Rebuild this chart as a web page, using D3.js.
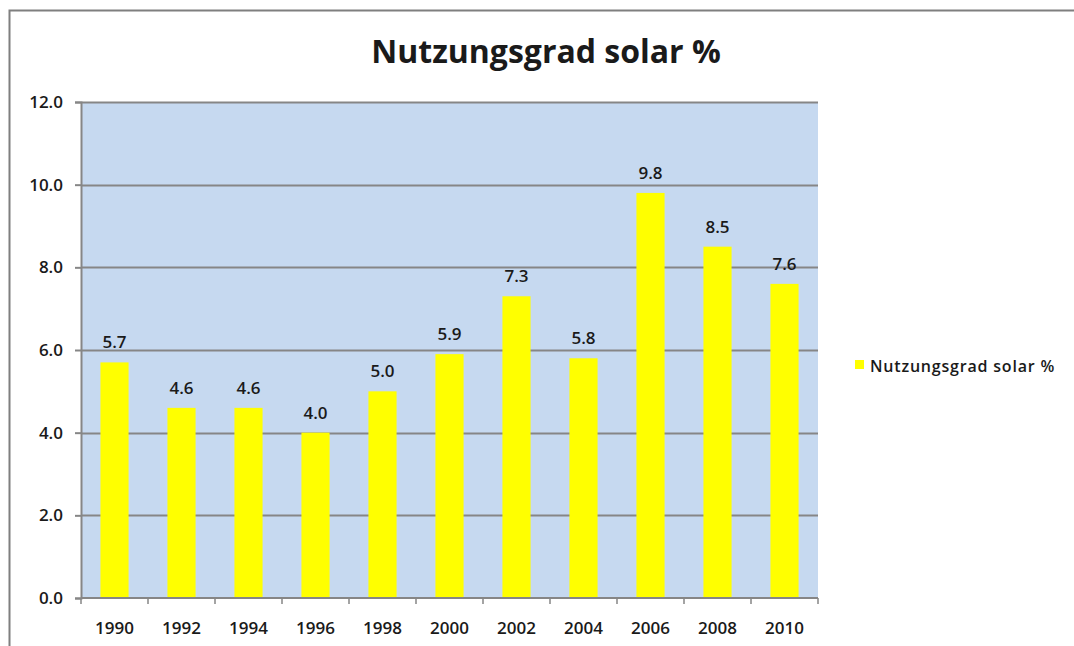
<!DOCTYPE html>
<html>
<head>
<meta charset="utf-8">
<script src="https://cdn.jsdelivr.net/npm/d3@7"></script>
<style>
  body { margin: 0; background: #fff; }
  text { font-family: "Open Sans", "DejaVu Sans", sans-serif; fill: #1a1a1a; }
</style>
</head>
<body>
<div id="chart"></div>
<script>
let years = ["1990", "1992", "1994", "1996", "1998", "2000", "2002", "2004", "2006", "2008", "2010"];
let values = [5.7, 4.6, 4.6, 4.0, 5.0, 5.9, 7.3, 5.8, 9.8, 8.5, 7.6];
let yTicks = [0, 2, 4, 6, 8, 10, 12];
let title = "Nutzungsgrad solar %";
let seriesName = "Nutzungsgrad solar %";

let width = 1074;
let height = 646;
let plot = { left: 81, top: 102, right: 818, bottom: 598 };

let svg = d3.select("#chart")
  .append("svg")
  .attr("width", width)
  .attr("height", height);

// outer chart border (runs off the right and bottom edge)
svg.append("rect")
  .attr("x", 9.5)
  .attr("y", 10.5)
  .attr("width", 1100)
  .attr("height", 700)
  .attr("fill", "#fff")
  .attr("stroke", "#7f7f7f")
  .attr("stroke-width", 2);

svg.append("text")
  .attr("x", 546)
  .attr("y", 63)
  .attr("text-anchor", "middle")
  .attr("font-size", 32)
  .attr("font-weight", "bold")
  .text(title);

let xScale = d3.scaleBand()
  .domain(years)
  .range([plot.left, plot.right])
  .paddingInner(0.58)
  .paddingOuter(0.29);

let yScale = d3.scaleLinear()
  .domain([0, 12])
  .range([plot.bottom, plot.top]);

svg.append("rect")
  .attr("x", plot.left)
  .attr("y", plot.top)
  .attr("width", plot.right - plot.left)
  .attr("height", plot.bottom - plot.top)
  .attr("fill", "#c6d9f0");

// gridlines
svg.append("g")
  .selectAll("line")
  .data(yTicks.filter((d) => d > 0))
  .enter()
  .append("line")
  .attr("x1", plot.left)
  .attr("x2", plot.right)
  .attr("y1", (d) => Math.round(yScale(d)) + 0.5)
  .attr("y2", (d) => Math.round(yScale(d)) + 0.5)
  .attr("stroke", "#868686")
  .attr("stroke-width", 2);

svg.append("g")
  .selectAll("rect")
  .data(values)
  .enter()
  .append("rect")
  .attr("x", (d, i) => xScale(years[i]))
  .attr("y", (d) => yScale(d))
  .attr("width", xScale.bandwidth())
  .attr("height", (d) => yScale(0) - yScale(d))
  .attr("fill", "#ffff00");

svg.append("g")
  .selectAll("text")
  .data(values)
  .enter()
  .append("text")
  .attr("x", (d, i) => xScale(years[i]) + xScale.bandwidth() / 2)
  .attr("y", (d) => yScale(d) - 14)
  .attr("text-anchor", "middle")
  .attr("font-size", 17)
  .attr("font-weight", 600)
  .text((d) => d3.format(".1f")(d));

// y axis
let yAxis = d3.axisLeft(yScale)
  .tickValues(yTicks)
  .tickSize(6)
  .tickPadding(12)
  .tickFormat(d3.format(".1f"));

let yg = svg.append("g")
  .attr("transform", "translate(" + plot.left + ",0)")
  .call(yAxis);
yg.selectAll("line").attr("stroke", "#868686").attr("stroke-width", 2);
yg.select(".domain").attr("stroke", "#868686").attr("stroke-width", 2);
yg.selectAll("text")
  .attr("font-size", 17)
  .attr("font-weight", 600)
  .attr("font-family", "Open Sans, sans-serif")
  .attr("fill", "#1a1a1a");

// x axis: ticks between categories
let xg = svg.append("g")
  .attr("transform", "translate(0," + plot.bottom + ")");

xg.append("line")
  .attr("x1", plot.left)
  .attr("x2", plot.right)
  .attr("stroke", "#868686")
  .attr("stroke-width", 2);

let step = xScale.step();
xg.selectAll(".tick-mark")
  .data(d3.range(years.length + 1))
  .enter()
  .append("line")
  .attr("class", "tick-mark")
  .attr("x1", (d) => plot.left + d * step)
  .attr("x2", (d) => plot.left + d * step)
  .attr("y1", 0)
  .attr("y2", 6)
  .attr("stroke", "#868686")
  .attr("stroke-width", 1.5);

xg.selectAll("text")
  .data(years)
  .enter()
  .append("text")
  .attr("x", (d) => xScale(d) + xScale.bandwidth() / 2)
  .attr("y", 36)
  .attr("text-anchor", "middle")
  .attr("font-size", 17)
  .attr("font-weight", 600)
  .text((d) => d);

// legend
let legend = svg.append("g").attr("transform", "translate(855,367)");
legend.append("rect")
  .attr("x", 0)
  .attr("y", -7)
  .attr("width", 9)
  .attr("height", 9)
  .attr("fill", "#ffff00");
legend.append("text")
  .attr("x", 15)
  .attr("y", 5)
  .attr("font-size", 16)
  .attr("font-weight", 600)
  .attr("letter-spacing", 0.8)
  .text(seriesName);
</script>
</body>
</html>
